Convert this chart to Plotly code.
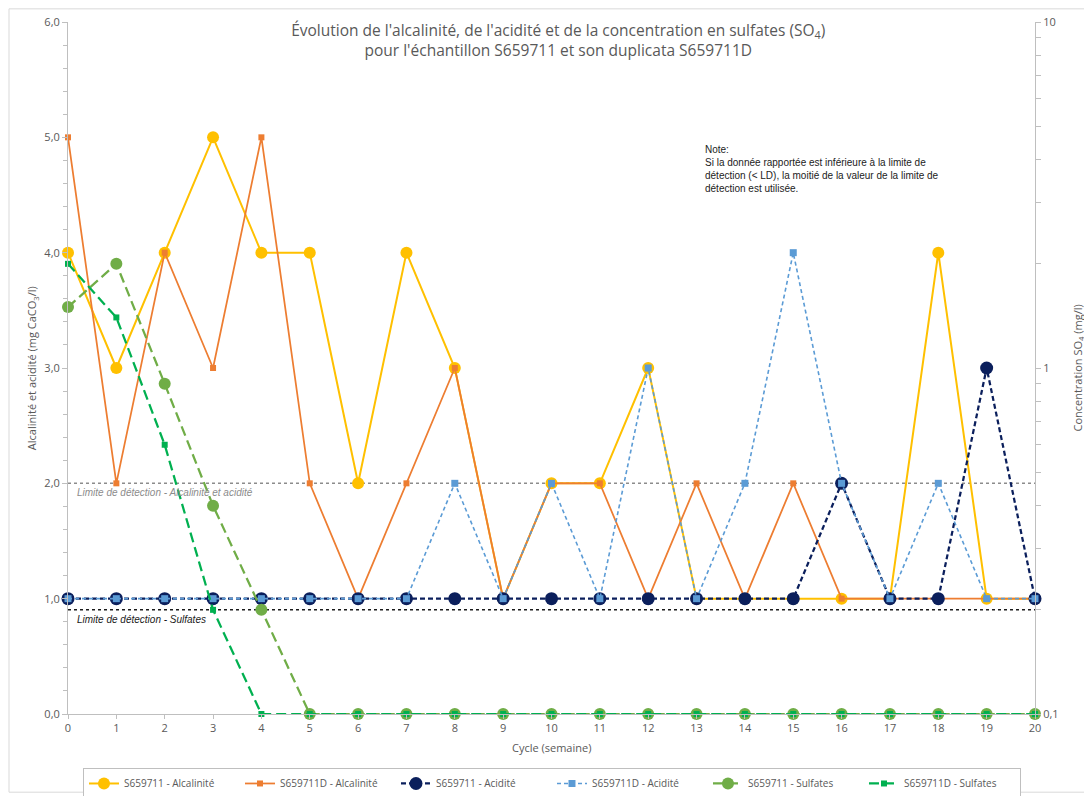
import plotly.graph_objects as go

cycles = list(range(21))
alc_s = [4, 3, 4, 5, 4, 4, 2, 4, 3, 1, 2, 2, 3, 1, 1, 1, 1, 1, 4, 1, 1]
alc_d = [5, 2, 4, 3, 5, 2, 1, 2, 3, 1, 2, 2, 1, 2, 1, 2, 1, 1, 1, 1, 1]
acid_s = [1, 1, 1, 1, 1, 1, 1, 1, 1, 1, 1, 1, 1, 1, 1, 1, 2, 1, 1, 3, 1]
acid_d = [1, 1, 1, 1, 1, 1, 1, 1, 2, 1, 2, 1, 3, 1, 2, 4, 2, 1, 2, 1, 1]
so4_s = [1.5, 2.0, 0.9, 0.4, 0.2, 0.1, 0.1, 0.1, 0.1, 0.1, 0.1, 0.1, 0.1, 0.1, 0.1, 0.1, 0.1, 0.1, 0.1, 0.1, 0.1]
so4_d = [2.0, 1.4, 0.6, 0.2, 0.1, 0.1, 0.1, 0.1, 0.1, 0.1, 0.1, 0.1, 0.1, 0.1, 0.1, 0.1, 0.1, 0.1, 0.1, 0.1, 0.1]
dl_alc = 2.0
dl_so4 = 0.2
so4_ticks = [0.1, 0.2, 0.3, 0.4, 0.5, 0.6, 0.7, 0.8, 0.9, 1, 2, 3, 4, 5, 6, 7, 8, 9, 10]
so4_ticktext = ["0,1", "", "", "", "", "", "", "", "", "1", "", "", "", "", "", "", "", "", "10"]

names = ["S659711 - Alcalinité", "S659711D - Alcalinité", "S659711 - Acidité",
         "S659711D - Acidité", "S659711 - Sulfates", "S659711D - Sulfates"]

FONT = "Open Sans"
GRAY = "#595959"
AX = "#bfbfbf"

fig = go.Figure()

# detection limit lines
fig.add_trace(go.Scatter(x=[cycles[0], cycles[-1]], y=[dl_alc, dl_alc], mode="lines",
                         line=dict(color="#8c8c8c", width=1.5, dash="dot"),
                         showlegend=False, hoverinfo="skip"))
fig.add_trace(go.Scatter(x=[cycles[0], cycles[-1]], y=[dl_so4, dl_so4], mode="lines", yaxis="y2",
                         line=dict(color="#1a1a1a", width=1.5, dash="dot"),
                         showlegend=False, hoverinfo="skip"))

fig.add_trace(go.Scatter(x=cycles, y=alc_s, name=names[0], mode="lines+markers",
                         line=dict(color="#FFC000", width=2),
                         marker=dict(symbol="circle", size=12, color="#FFC000"), cliponaxis=False))
fig.add_trace(go.Scatter(x=cycles, y=alc_d, name=names[1], mode="lines+markers",
                         line=dict(color="#ED7D31", width=1.75),
                         marker=dict(symbol="square", size=6, color="#ED7D31"), cliponaxis=False))
fig.add_trace(go.Scatter(x=cycles, y=acid_s, name=names[2], mode="lines+markers",
                         line=dict(color="#0B1F5C", width=2.25, dash="5px,3px"),
                         marker=dict(symbol="circle", size=13, color="#0B1F5C"), cliponaxis=False))
fig.add_trace(go.Scatter(x=cycles, y=acid_d, name=names[3], mode="lines+markers",
                         line=dict(color="#5B9BD5", width=1.6, dash="4px,3px"),
                         marker=dict(symbol="square", size=7, color="#5B9BD5"), cliponaxis=False))
fig.add_trace(go.Scatter(x=cycles, y=so4_s, name=names[4], mode="lines+markers", yaxis="y2",
                         line=dict(color="#70AD47", width=2.25, dash="10px,5px"),
                         marker=dict(symbol="circle", size=12, color="#70AD47"), cliponaxis=False))
fig.add_trace(go.Scatter(x=cycles, y=so4_d, name=names[5], mode="lines+markers", yaxis="y2",
                         line=dict(color="#00B050", width=2.25, dash="10px,5px"),
                         marker=dict(symbol="square", size=6, color="#00B050"), cliponaxis=False))

fig.update_layout(
    width=1084, height=788,
    margin=dict(l=60, r=57, t=14, b=82, autoexpand=False),
    paper_bgcolor="white", plot_bgcolor="white",
    separators=", ",
    font=dict(family=FONT, color=GRAY, size=11),
    title=dict(text="Évolution de l'alcalinité, de l'acidité et de la concentration en sulfates (SO<sub>4</sub>)<br>pour l'échantillon S659711 et son duplicata S659711D",
               x=0.507, xanchor="center", xref="paper", y=0.965, yanchor="top", yref="container",
               font=dict(family=FONT, size=15.5, color=GRAY)),
    xaxis=dict(range=[0, 20], tickmode="linear", dtick=1, showline=True, linecolor=AX,
               linewidth=1, ticks="outside", ticklen=4, tickcolor=AX, showgrid=False,
               zeroline=False, tickfont=dict(size=11, color=GRAY), automargin=False),
    yaxis=dict(range=[0, 6], dtick=1, tickformat=".1f", showline=True, linecolor=AX,
               ticks="outside", ticklen=5, tickcolor=AX, showgrid=False, zeroline=False,
               minor=dict(dtick=0.2, ticks="outside", ticklen=4, tickcolor=AX, showgrid=False),
               tickfont=dict(size=11, color=GRAY), automargin=False),
    yaxis2=dict(type="log", range=[-1, 1], overlaying="y", side="right", showline=True,
                linecolor=AX, ticks="outside", ticklen=5, tickcolor=AX,
                showgrid=False, zeroline=False, automargin=False,
                tickvals=so4_ticks, ticktext=so4_ticktext,
                tickfont=dict(size=11, color=GRAY)),
    legend=dict(orientation="h", x=0.0155, xanchor="left", y=-0.078, yanchor="top",
                bordercolor=AX, borderwidth=1, entrywidth=111, entrywidthmode="pixels",
                font=dict(size=10, color=GRAY), itemwidth=30),
    showlegend=True,
)

# axis titles
fig.add_annotation(text="Alcalinité et acidité (mg CaCO<sub>3</sub>/l)", x=-0.037, y=0.5,
                   xref="paper", yref="paper", textangle=-90, showarrow=False,
                   xanchor="center", yanchor="middle", font=dict(size=11, color=GRAY))
fig.add_annotation(text="Concentration SO<sub>4</sub> (mg/l)", x=1.044, y=0.5,
                   xref="paper", yref="paper", textangle=-90, showarrow=False,
                   xanchor="center", yanchor="middle", font=dict(size=11, color=GRAY))
fig.add_annotation(text="Cycle (semaine)", x=0.5, y=-0.048, xref="paper", yref="paper",
                   showarrow=False, xanchor="center", yanchor="middle", font=dict(size=11, color=GRAY))

fig.add_annotation(text="<i>Limite de détection - Alcalinité et acidité</i>", x=0.15, y=dl_alc,
                   xref="x", yref="y", xanchor="left", yanchor="top", yshift=-2, showarrow=False,
                   font=dict(family="Liberation Sans", size=10, color="#8c8c8c"))
fig.add_annotation(text="<i>Limite de détection - Sulfates</i>", x=0.15, y=0.9,
                   xref="x", yref="y", xanchor="left", yanchor="top", yshift=-2, showarrow=False,
                   font=dict(family="Liberation Sans", size=10, color="#1a1a1a"))
fig.add_annotation(text="Note:<br>Si la donnée rapportée est inférieure à la limite de<br>détection (< LD), la moitié de la valeur de la limite de<br>détection est utilisée.",
                   x=0.657, y=0.827, xref="paper", yref="paper", xanchor="left", yanchor="top",
                   align="left", showarrow=False,
                   font=dict(family="Liberation Sans", size=10, color="#222222"))

fig.add_shape(type="rect", xref="paper", yref="paper", x0=-0.061, x1=1.057, y0=-0.113, y1=1.019,
              line=dict(color="#d9d9d9", width=1), fillcolor="rgba(0,0,0,0)", layer="below")

fig.write_html("out.html")
